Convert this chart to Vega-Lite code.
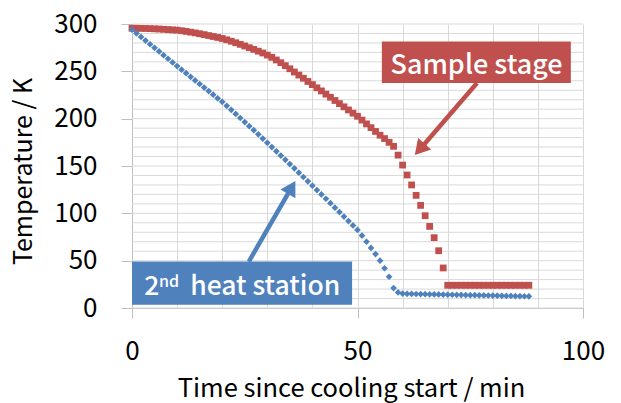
{
  "$schema": "https://vega.github.io/schema/vega-lite/v6.json",
  "width": 451,
  "height": 284,
  "autosize": {"type": "none"},
  "padding": {"left": 132, "top": 24, "right": 38, "bottom": 95},
  "background": "white",
  "config": {
    "view": {"stroke": null},
    "font": "Noto Sans CJK JP",
    "axis": {
      "gridColor": "#d9d9d9",
      "gridWidth": 1,
      "domainColor": "#bfbfbf",
      "tickColor": "#bfbfbf",
      "labelColor": "#000000",
      "titleColor": "#000000",
      "labelFontSize": 26,
      "titleFontWeight": "normal",
      "labelOverlap": false,
      "labelFlush": false
    }
  },
  "datasets": {
    "grid": [
      {"g": 0}, {"g": 10}, {"g": 20}, {"g": 30}, {"g": 40}, {"g": 50}, {"g": 60}, {"g": 70}, {"g": 80}, {"g": 90},
      {"g": 100}, {"g": 110}, {"g": 120}, {"g": 130}, {"g": 140}, {"g": 150}, {"g": 160}, {"g": 170}, {"g": 180}, {"g": 190},
      {"g": 200}, {"g": 210}, {"g": 220}, {"g": 230}, {"g": 240}, {"g": 250}, {"g": 260}, {"g": 270}, {"g": 280}, {"g": 290}, {"g": 300}
    ],
    "sample": [
      {"t": 0, "K": 295.5}, {"t": 1, "K": 295.5}, {"t": 2, "K": 295.4}, {"t": 3, "K": 295.3}, {"t": 4, "K": 295.1},
      {"t": 5, "K": 294.9}, {"t": 6, "K": 294.7}, {"t": 7, "K": 294.4}, {"t": 8, "K": 294.1}, {"t": 9, "K": 293.8},
      {"t": 10, "K": 293.5}, {"t": 11, "K": 292.9}, {"t": 12, "K": 292.2}, {"t": 13, "K": 291.4}, {"t": 14, "K": 290.6},
      {"t": 15, "K": 289.7}, {"t": 16, "K": 288.8}, {"t": 17, "K": 287.8}, {"t": 18, "K": 286.8}, {"t": 19, "K": 285.8},
      {"t": 20, "K": 284.7}, {"t": 21, "K": 283.3}, {"t": 22, "K": 281.8}, {"t": 23, "K": 280.2}, {"t": 24, "K": 278.5},
      {"t": 25, "K": 276.8}, {"t": 26, "K": 275.0}, {"t": 27, "K": 273.2}, {"t": 28, "K": 271.3}, {"t": 29, "K": 269.4},
      {"t": 30, "K": 267.2}, {"t": 31, "K": 264.8}, {"t": 32, "K": 262.0}, {"t": 33, "K": 259.1}, {"t": 34, "K": 256.0},
      {"t": 35, "K": 252.7}, {"t": 36, "K": 249.3}, {"t": 37, "K": 246.0}, {"t": 38, "K": 242.7}, {"t": 39, "K": 239.3},
      {"t": 40, "K": 236.0}, {"t": 41, "K": 232.6}, {"t": 42, "K": 229.3}, {"t": 43, "K": 225.9}, {"t": 44, "K": 222.6},
      {"t": 45, "K": 219.2}, {"t": 46, "K": 215.9}, {"t": 47, "K": 212.5}, {"t": 48, "K": 209.2}, {"t": 49, "K": 205.8},
      {"t": 50, "K": 202.5}, {"t": 51, "K": 198.5}, {"t": 52, "K": 194.5}, {"t": 53, "K": 190.5}, {"t": 54, "K": 186.5},
      {"t": 55, "K": 182.5}, {"t": 56, "K": 179.0}, {"t": 57, "K": 175.0}, {"t": 58, "K": 170.8}, {"t": 59, "K": 161.5},
      {"t": 60, "K": 151.0}, {"t": 61, "K": 140.5}, {"t": 62, "K": 130.0}, {"t": 63, "K": 119.0}, {"t": 64, "K": 108.4},
      {"t": 65, "K": 97.5}, {"t": 66, "K": 86.2}, {"t": 67, "K": 74.3}, {"t": 68, "K": 60.5}, {"t": 69, "K": 42.3},
      {"t": 70, "K": 24.0}, {"t": 71, "K": 24.0}, {"t": 72, "K": 24.0}, {"t": 73, "K": 24.0}, {"t": 74, "K": 24.0},
      {"t": 75, "K": 24.0}, {"t": 76, "K": 24.0}, {"t": 77, "K": 24.0}, {"t": 78, "K": 24.0}, {"t": 79, "K": 24.0},
      {"t": 80, "K": 24.0}, {"t": 81, "K": 24.0}, {"t": 82, "K": 24.0}, {"t": 83, "K": 24.0}, {"t": 84, "K": 24.0},
      {"t": 85, "K": 24.0}, {"t": 86, "K": 24.0}, {"t": 87, "K": 24.0}, {"t": 88, "K": 24.0}
    ],
    "station": [
      {"t": 0, "K": 294.0}, {"t": 1, "K": 290.2}, {"t": 2, "K": 286.3}, {"t": 3, "K": 282.5}, {"t": 4, "K": 278.6},
      {"t": 5, "K": 274.8}, {"t": 6, "K": 271.0}, {"t": 7, "K": 267.1}, {"t": 8, "K": 263.3}, {"t": 9, "K": 259.4},
      {"t": 10, "K": 255.6}, {"t": 11, "K": 251.8}, {"t": 12, "K": 248.0}, {"t": 13, "K": 244.2}, {"t": 14, "K": 240.4},
      {"t": 15, "K": 236.6}, {"t": 16, "K": 232.8}, {"t": 17, "K": 229.1}, {"t": 18, "K": 225.3}, {"t": 19, "K": 221.5},
      {"t": 20, "K": 217.8}, {"t": 21, "K": 213.6}, {"t": 22, "K": 209.3}, {"t": 23, "K": 205.0}, {"t": 24, "K": 200.7},
      {"t": 25, "K": 196.4}, {"t": 26, "K": 192.1}, {"t": 27, "K": 187.8}, {"t": 28, "K": 183.5}, {"t": 29, "K": 179.0},
      {"t": 30, "K": 174.5}, {"t": 31, "K": 170.0}, {"t": 32, "K": 165.5}, {"t": 33, "K": 161.0}, {"t": 34, "K": 156.5},
      {"t": 35, "K": 152.0}, {"t": 36, "K": 147.5}, {"t": 37, "K": 143.0}, {"t": 38, "K": 138.4}, {"t": 39, "K": 133.8},
      {"t": 40, "K": 129.2}, {"t": 41, "K": 124.6}, {"t": 42, "K": 120.0}, {"t": 43, "K": 115.4}, {"t": 44, "K": 110.7},
      {"t": 45, "K": 106.0}, {"t": 46, "K": 101.3}, {"t": 47, "K": 96.6}, {"t": 48, "K": 91.8}, {"t": 49, "K": 87.2},
      {"t": 50, "K": 82.5}, {"t": 51, "K": 76.5}, {"t": 52, "K": 70.0}, {"t": 53, "K": 63.5}, {"t": 54, "K": 57.0},
      {"t": 55, "K": 50.0}, {"t": 56, "K": 42.0}, {"t": 57, "K": 33.0}, {"t": 58, "K": 21.0}, {"t": 59, "K": 16.5},
      {"t": 60, "K": 15.2}, {"t": 61, "K": 15.0}, {"t": 62, "K": 14.9}, {"t": 63, "K": 14.8}, {"t": 64, "K": 14.7},
      {"t": 65, "K": 14.6}, {"t": 66, "K": 14.5}, {"t": 67, "K": 14.4}, {"t": 68, "K": 14.3}, {"t": 69, "K": 14.2},
      {"t": 70, "K": 14.1}, {"t": 71, "K": 14.0}, {"t": 72, "K": 13.9}, {"t": 73, "K": 13.8}, {"t": 74, "K": 13.7},
      {"t": 75, "K": 13.6}, {"t": 76, "K": 13.5}, {"t": 77, "K": 13.4}, {"t": 78, "K": 13.3}, {"t": 79, "K": 13.2},
      {"t": 80, "K": 13.1}, {"t": 81, "K": 13.0}, {"t": 82, "K": 12.9}, {"t": 83, "K": 12.8}, {"t": 84, "K": 12.7},
      {"t": 85, "K": 12.6}, {"t": 86, "K": 12.5}, {"t": 87, "K": 12.4}, {"t": 88, "K": 12.3}
    ]
  },
  "layer": [
    {
      "data": {"name": "grid"},
      "mark": {"type": "rule", "color": "#d9d9d9", "strokeWidth": 1},
      "encoding": {
        "y": {
          "field": "g", "type": "quantitative",
          "scale": {"domain": [0, 300], "nice": false, "zero": false},
          "axis": {
            "values": [0, 50, 100, 150, 200, 250, 300],
            "grid": false,
            "labelOverlap": false,
            "tickSize": 11,
            "labelPadding": 24,
            "labelFontSize": 26,
            "title": "Temperature / K",
            "titleFontSize": 25,
            "titlePadding": 17,
            "titleY": 147
          }
        }
      }
    },
    {
      "data": {"name": "sample"},
      "mark": {"type": "point", "shape": "square", "filled": true, "size": 46, "color": "#c0504d", "opacity": 1},
      "encoding": {
        "x": {
          "field": "t", "type": "quantitative",
          "scale": {"domain": [0, 100], "nice": false, "zero": false},
          "axis": {
            "values": [0, 10, 20, 30, 40, 50, 60, 70, 80, 90, 100],
            "labelExpr": "datum.value % 50 === 0 ? datum.label : ''",
            "labelOverlap": false,
            "tickSize": 10,
            "tickOpacity": {"condition": {"test": "datum.value % 50 === 0", "value": 1}, "value": 0},
            "labelPadding": 20,
            "title": "Time since cooling start / min",
            "titleFontSize": 25.5,
            "titlePadding": 12,
            "titleX": 219
          }
        },
        "y": {"field": "K", "type": "quantitative"}
      }
    },
    {
      "data": {"name": "station"},
      "mark": {"type": "point", "shape": "diamond", "filled": true, "size": 45, "color": "#4f81bd", "opacity": 1},
      "encoding": {
        "x": {"field": "t", "type": "quantitative"},
        "y": {"field": "K", "type": "quantitative"}
      }
    },
    {
      "data": {"values": [{"t1": 55.4, "t2": 97.3, "K1": 237.7, "K2": 281.6}]},
      "mark": {"type": "rect", "color": "#c0504d", "opacity": 1},
      "encoding": {
        "x": {"field": "t1", "type": "quantitative"},
        "x2": {"field": "t2"},
        "y": {"field": "K1", "type": "quantitative"},
        "y2": {"field": "K2"}
      }
    },
    {
      "data": {"values": [{"t1": 0, "t2": 48.8, "K1": 3.5, "K2": 49.0}]},
      "mark": {"type": "rect", "color": "#4f81bd", "opacity": 1},
      "encoding": {
        "x": {"field": "t1", "type": "quantitative"},
        "x2": {"field": "t2"},
        "y": {"field": "K1", "type": "quantitative"},
        "y2": {"field": "K2"}
      }
    },
    {
      "data": {"values": [{"t1": 76.5, "t2": 63.8, "K1": 237.7, "K2": 167.5}]},
      "mark": {"type": "rule", "color": "#c0504d", "strokeWidth": 4.5},
      "encoding": {
        "x": {"field": "t1", "type": "quantitative"},
        "x2": {"field": "t2"},
        "y": {"field": "K1", "type": "quantitative"},
        "y2": {"field": "K2"}
      }
    },
    {
      "data": {"values": [{"t": 63.8, "K": 167.5}]},
      "mark": {"type": "point", "shape": "triangle-up", "filled": true, "size": 300, "angle": 221, "color": "#c0504d", "opacity": 1},
      "encoding": {
        "x": {"field": "t", "type": "quantitative"},
        "y": {"field": "K", "type": "quantitative"}
      }
    },
    {
      "data": {"values": [{"t1": 25.9, "t2": 35.4, "K1": 49.0, "K2": 127.4}]},
      "mark": {"type": "rule", "color": "#4f81bd", "strokeWidth": 4.5},
      "encoding": {
        "x": {"field": "t1", "type": "quantitative"},
        "x2": {"field": "t2"},
        "y": {"field": "K1", "type": "quantitative"},
        "y2": {"field": "K2"}
      }
    },
    {
      "data": {"values": [{"t": 35.4, "K": 127.4}]},
      "mark": {"type": "point", "shape": "triangle-up", "filled": true, "size": 300, "angle": 30, "color": "#4f81bd", "opacity": 1},
      "encoding": {
        "x": {"field": "t", "type": "quantitative"},
        "y": {"field": "K", "type": "quantitative"}
      }
    },
    {
      "data": {"values": [{"t": 76.4, "K": 247.5, "label": "Sample stage"}]},
      "mark": {"type": "text", "color": "white", "fontSize": 27, "fontWeight": 500, "align": "center", "baseline": "alphabetic"},
      "encoding": {
        "x": {"field": "t", "type": "quantitative"},
        "y": {"field": "K", "type": "quantitative"},
        "text": {"field": "label"}
      }
    },
    {
      "data": {"values": [{"t": 2.7, "K": 14.0, "label": "2"}, {"t": 12.9, "K": 14.0, "label": "heat station"}]},
      "mark": {"type": "text", "color": "white", "fontSize": 26.5, "fontWeight": 500, "align": "left", "baseline": "alphabetic"},
      "encoding": {
        "x": {"field": "t", "type": "quantitative"},
        "y": {"field": "K", "type": "quantitative"},
        "text": {"field": "label"}
      }
    },
    {
      "data": {"values": [{"t": 6.0, "K": 22.0, "label": "nd"}]},
      "mark": {"type": "text", "color": "white", "fontSize": 16, "fontWeight": 500, "align": "left", "baseline": "alphabetic"},
      "encoding": {
        "x": {"field": "t", "type": "quantitative"},
        "y": {"field": "K", "type": "quantitative"},
        "text": {"field": "label"}
      }
    }
  ]
}
